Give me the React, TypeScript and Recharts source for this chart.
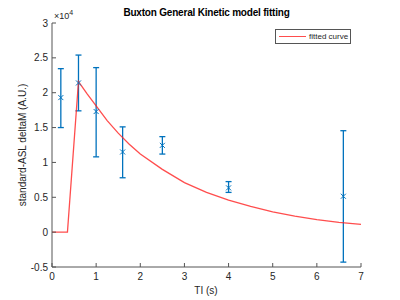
import React from "react";
import {
  ComposedChart,
  ErrorBar,
  Line,
  Scatter,
  XAxis,
  YAxis,
} from "recharts";

// measured points (TI in s, deltaM in A.U.)
const tiValues = [0.2, 0.6, 1.0, 1.6, 2.5, 4.0, 6.6];
const meanValues = [19300, 21400, 17300, 11500, 12450, 6350, 5150];
const lowValues = [15000, 17400, 10800, 7800, 11200, 5700, -4300];
const highValues = [23450, 25400, 23600, 15100, 13700, 7250, 14550];

// fitted curve
const curveTi = [0, 0.35, 0.6, 0.8, 1.0, 1.25, 1.5, 1.75, 2.0, 2.5, 3.0, 3.5, 4.0, 4.5, 5.0, 5.5, 6.0, 6.5, 7.0];
const curveValues = [0, 0, 21600, 19800, 18100, 16000, 14200, 12600, 11200, 9000, 7100, 5700, 4600, 3700, 2900, 2300, 1800, 1400, 1100];

const xTicks = [0, 1, 2, 3, 4, 5, 6, 7];
const yTicks = [-5000, 0, 5000, 10000, 15000, 20000, 25000, 30000];

const points = tiValues.map((x, i) => ({
  x,
  y: meanValues[i],
  err: [meanValues[i] - lowValues[i], highValues[i] - meanValues[i]],
}));

const curve = curveTi.map((x, i) => ({ x, y: curveValues[i] }));

const BLUE = "#0072BD";
const AXIS = "#555555";
const FONT = "'Liberation Sans', Arial, sans-serif";

const XMark = (props: any) => {
  const { cx, cy } = props;
  const s = 2.5;
  return (
    <path
      d={`M${cx - s},${cy - s}L${cx + s},${cy + s}M${cx - s},${cy + s}L${cx + s},${cy - s}`}
      stroke={BLUE}
      strokeWidth={1}
      fill="none"
    />
  );
};

const NoLabel = () => <g />;

const tickStyle = { fontSize: 10, fill: "#262626", fontFamily: FONT };

export default function App() {
  return (
    <div
      style={{
        position: "absolute",
        left: 0,
        top: 0,
        width: 400,
        height: 300,
        background: "#fff",
        fontFamily: FONT,
        color: "#000",
      }}
    >
      <ComposedChart
        width={400}
        height={300}
        margin={{ top: 23, right: 39, bottom: 0, left: 0 }}
      >
        <XAxis
          xAxisId="b"
          type="number"
          dataKey="x"
          domain={[0, 7]}
          ticks={xTicks}
          height={33}
          tickSize={-4}
          tickMargin={10}
          tick={tickStyle}
          stroke={AXIS}
        />
        <XAxis
          xAxisId="t"
          type="number"
          orientation="top"
          domain={[0, 7]}
          ticks={xTicks}
          height={0}
          tickSize={-4}
          tick={NoLabel}
          stroke={AXIS}
        />
        <YAxis
          yAxisId="l"
          type="number"
          domain={[-5000, 30000]}
          ticks={yTicks}
          width={52}
          tickSize={-4}
          tickMargin={8}
          tick={tickStyle}
          tickFormatter={(v: number) => String(v / 10000)}
          stroke={AXIS}
        />
        <YAxis
          yAxisId="r"
          type="number"
          orientation="right"
          domain={[-5000, 30000]}
          ticks={yTicks}
          width={0}
          tickSize={-4}
          tick={NoLabel}
          stroke={AXIS}
        />
        <Scatter
          xAxisId="b"
          yAxisId="l"
          data={points}
          dataKey="y"
          shape={XMark}
          isAnimationActive={false}
        >
          <ErrorBar
            dataKey="err"
            direction="y"
            width={3}
            stroke={BLUE}
            strokeWidth={1.3}
            isAnimationActive={false}
          />
        </Scatter>
        <Line
          xAxisId="b"
          yAxisId="l"
          data={curve}
          dataKey="y"
          type="linear"
          stroke="#ff2020"
          strokeOpacity={0.8}
          strokeWidth={1.3}
          dot={false}
          isAnimationActive={false}
        />
      </ComposedChart>

      <div
        style={{
          position: "absolute",
          left: 0,
          width: 413,
          top: 7,
          textAlign: "center",
          fontSize: 10,
          fontWeight: "bold",
          letterSpacing: -0.2,
        }}
      >
        Buxton General Kinetic model fitting
      </div>

      <div
        style={{
          position: "absolute",
          left: 54,
          top: 9,
          fontSize: 9,
          color: "#262626",
        }}
      >
        ×10<sup style={{ fontSize: 7 }}>4</sup>
      </div>

      <div
        style={{
          position: "absolute",
          left: 22,
          top: 145,
          transform: "translate(-50%, -50%) rotate(-90deg)",
          whiteSpace: "nowrap",
          fontSize: 10,
          color: "#262626",
        }}
      >
        standard-ASL deltaM (A.U.)
      </div>

      <div
        style={{
          position: "absolute",
          left: 206,
          top: 290,
          transform: "translate(-50%, -50%)",
          whiteSpace: "nowrap",
          fontSize: 10,
          color: "#262626",
        }}
      >
        TI (s)
      </div>

      <div
        style={{
          position: "absolute",
          left: 275,
          top: 29,
          width: 74,
          height: 13,
          border: "1px solid #555",
          background: "#fff",
          display: "flex",
          alignItems: "center",
          fontSize: 8,
          color: "#262626",
        }}
      >
        <div
          style={{
            width: 27,
            height: 1.3,
            marginLeft: 3,
            marginRight: 3,
            background: "rgba(255,32,32,0.8)",
          }}
        />
        fitted curve
      </div>
    </div>
  );
}
